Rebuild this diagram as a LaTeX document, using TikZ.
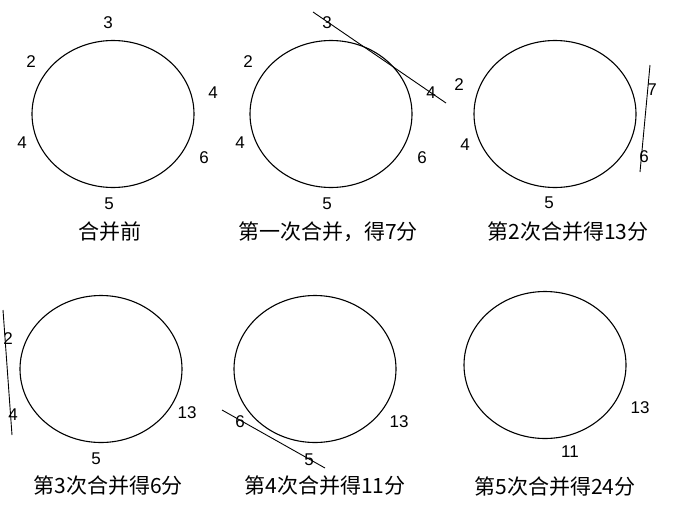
\documentclass[tikz,border=0pt]{standalone}
\usepackage{fontspec}
\setmainfont{Liberation Sans}
\newfontfamily\cjk{Noto Sans CJK SC}
\usetikzlibrary{shapes.geometric}
\begin{document}
\begin{tikzpicture}[
		x=1pt,y=-1pt,
		ring/.style={draw,ellipse,line width=1.1pt,minimum width=162pt,minimum height=147pt,inner sep=0pt},
		num/.style={font=\fontsize{17}{17}\selectfont},
		caption/.style={font=\cjk\fontsize{21}{21}\selectfont},
		cut/.style={line width=0.9pt}
		]
		\useasboundingbox (0,0) rectangle (684,517);
		% before merging
		\node[ring] (C1) at (113,114) {};
		\node[num] (C1a) at (108,23) {3};
		\node[num] (C1b) at (31,62) {2};
		\node[num] (C1c) at (213,93) {4};
		\node[num] (C1d) at (22,143) {4};
		\node[num] (C1e) at (204,158) {6};
		\node[num] (C1f) at (109,204) {5};
		\node[caption] (T1) at (110,232) {合并前};
		% first merge
		\node[ring] (C2) at (331,114) {};
		\node[num] (C2a) at (327,23) {3};
		\node[num] (C2b) at (248,62) {2};
		\node[num] (C2c) at (431,93) {4};
		\node[num] (C2d) at (240,143) {4};
		\node[num] (C2e) at (422,158) {6};
		\node[num] (C2f) at (327,204) {5};
		\node[caption] (T2) at (328,232) {第一次合并，得7分};
		\coordinate (L2a) at (313,12);
		\coordinate (L2b) at (446,103);
		\draw[cut] (L2a) to (L2b);
		% second merge
		\node[ring] (C3) at (555,114) {};
		\node[num] (C3a) at (459,85) {2};
		\node[num] (C3b) at (465,145) {4};
		\node[num] (C3c) at (652,90) {7};
		\node[num] (C3d) at (644,157) {6};
		\node[num] (C3e) at (549,203) {5};
		\node[caption] (T3) at (568,232) {第2次合并得13分};
		\coordinate (L3a) at (650,65);
		\coordinate (L3b) at (640,172);
		\draw[cut] (L3a) to (L3b);
		% third merge
		\node[ring] (C4) at (101,369) {};
		\node[num] (C4a) at (8,339) {2};
		\node[num] (C4b) at (13,415) {4};
		\node[num] (C4c) at (187,413) {13};
		\node[num] (C4d) at (96,459) {5};
		\node[caption] (T4) at (108,486) {第3次合并得6分};
		\coordinate (L4a) at (3,310);
		\coordinate (L4b) at (12,435);
		\draw[cut] (L4a) to (L4b);
		% fourth merge
		\node[ring] (C5) at (315,369) {};
		\node[num] (C5a) at (240,422) {6};
		\node[num] (C5b) at (309,460) {5};
		\node[num] (C5c) at (399,422) {13};
		\node[caption] (T5) at (325,486) {第4次合并得11分};
		\coordinate (L5a) at (222,410);
		\coordinate (L5b) at (325,468);
		\draw[cut] (L5a) to (L5b);
		% fifth merge
		\node[ring] (C6) at (545,365) {};
		\node[num] (C6a) at (640,408) {13};
		\node[num] (C6b) at (570,452) {11};
		\node[caption] (T6) at (555,487) {第5次合并得24分};
	\end{tikzpicture}
\end{document}
